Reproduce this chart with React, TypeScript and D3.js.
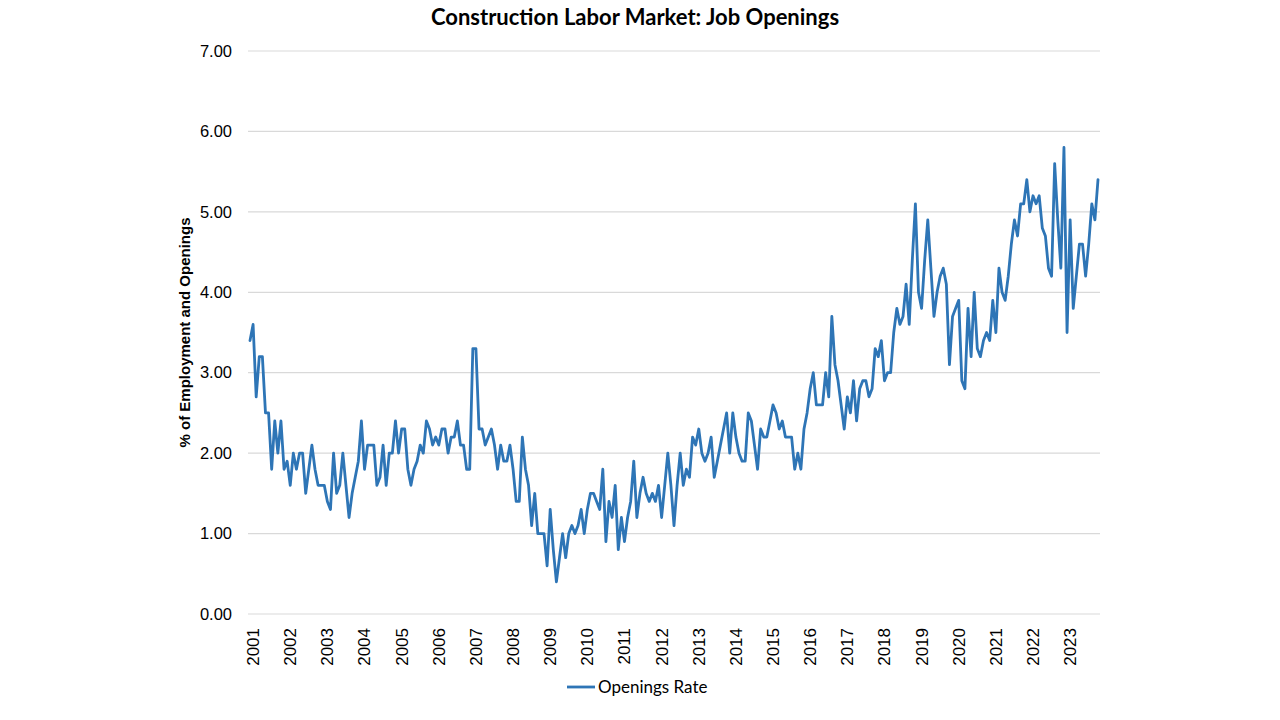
import React from "react";
import * as d3 from "d3";

// Monthly JOLTS construction job openings rate, Dec 2000 – Oct 2023
const startYear = 2000;
const startMonth = 11; // December (0-based)
const openingsRate: number[] = [
  3.4,
  // 2001
  3.6, 2.7, 3.2, 3.2, 2.5, 2.5, 1.8, 2.4, 2.0, 2.4, 1.8, 1.9,
  // 2002
  1.6, 2.0, 1.8, 2.0, 2.0, 1.5, 1.8, 2.1, 1.8, 1.6, 1.6, 1.6,
  // 2003
  1.4, 1.3, 2.0, 1.5, 1.6, 2.0, 1.6, 1.2, 1.5, 1.7, 1.9, 2.4,
  // 2004
  1.8, 2.1, 2.1, 2.1, 1.6, 1.7, 2.1, 1.6, 2.0, 2.0, 2.4, 2.0,
  // 2005
  2.3, 2.3, 1.8, 1.6, 1.8, 1.9, 2.1, 2.0, 2.4, 2.3, 2.1, 2.2,
  // 2006
  2.1, 2.3, 2.3, 2.0, 2.2, 2.2, 2.4, 2.1, 2.1, 1.8, 1.8, 3.3,
  // 2007
  3.3, 2.3, 2.3, 2.1, 2.2, 2.3, 2.1, 1.8, 2.1, 1.9, 1.9, 2.1,
  // 2008
  1.8, 1.4, 1.4, 2.2, 1.8, 1.6, 1.1, 1.5, 1.0, 1.0, 1.0, 0.6,
  // 2009
  1.3, 0.8, 0.4, 0.7, 1.0, 0.7, 1.0, 1.1, 1.0, 1.1, 1.3, 1.0,
  // 2010
  1.3, 1.5, 1.5, 1.4, 1.3, 1.8, 0.9, 1.4, 1.2, 1.6, 0.8, 1.2,
  // 2011
  0.9, 1.2, 1.4, 1.9, 1.2, 1.5, 1.7, 1.5, 1.4, 1.5, 1.4, 1.6,
  // 2012
  1.2, 1.6, 2.0, 1.6, 1.1, 1.6, 2.0, 1.6, 1.8, 1.7, 2.2, 2.1,
  // 2013
  2.3, 2.0, 1.9, 2.0, 2.2, 1.7, 1.9, 2.1, 2.3, 2.5, 2.0, 2.5,
  // 2014
  2.2, 2.0, 1.9, 1.9, 2.5, 2.4, 2.1, 1.8, 2.3, 2.2, 2.2, 2.4,
  // 2015
  2.6, 2.5, 2.3, 2.4, 2.2, 2.2, 2.2, 1.8, 2.0, 1.8, 2.3, 2.5,
  // 2016
  2.8, 3.0, 2.6, 2.6, 2.6, 3.0, 2.7, 3.7, 3.1, 2.9, 2.6, 2.3,
  // 2017
  2.7, 2.5, 2.9, 2.4, 2.8, 2.9, 2.9, 2.7, 2.8, 3.3, 3.2, 3.4,
  // 2018
  2.9, 3.0, 3.0, 3.5, 3.8, 3.6, 3.7, 4.1, 3.6, 4.4, 5.1, 4.0,
  // 2019
  3.8, 4.4, 4.9, 4.3, 3.7, 4.0, 4.2, 4.3, 4.1, 3.1, 3.7, 3.8,
  // 2020
  3.9, 2.9, 2.8, 3.8, 3.2, 4.0, 3.3, 3.2, 3.4, 3.5, 3.4, 3.9,
  // 2021
  3.5, 4.3, 4.0, 3.9, 4.2, 4.6, 4.9, 4.7, 5.1, 5.1, 5.4, 5.0,
  // 2022
  5.2, 5.1, 5.2, 4.8, 4.7, 4.3, 4.2, 5.6, 4.9, 4.3, 5.8, 3.5,
  // 2023
  4.9, 3.8, 4.2, 4.6, 4.6, 4.2, 4.6, 5.1, 4.9, 5.4,
];

const yearLabels: string[] = d3.range(2001, 2024).map(String);
const yTicks: number[] = [0, 1, 2, 3, 4, 5, 6, 7];

const title = "Construction Labor Market: Job Openings";
const yAxisTitle = "% of Employment and Openings";
const seriesName = "Openings Rate";

export default function App() {
  const W = 1280;
  const H = 720;
  const plotLeft = 248;
  const plotRight = 1100;
  const plotTop = 51;
  const plotBottom = 614;
  const lineColor = "#2e75b6";

  const n = openingsRate.length;
  const x = d3.scaleLinear().domain([0, n - 1]).range([250, 1098]);
  const y = d3.scaleLinear().domain([0, 7]).range([plotBottom, plotTop]);

  const monthIndex = (year: number) => (year - startYear) * 12 - startMonth;

  const line = d3
    .line<number>()
    .x((_, i) => x(i))
    .y((d) => y(d));

  const axisFont = "'Liberation Sans', Arial, sans-serif";

  return (
    <div style={{ position: "fixed", left: 0, top: 0, width: W, height: H, background: "#ffffff" }}>
      <svg width={W} height={H} viewBox={`0 0 ${W} ${H}`}>
        <rect x={0} y={0} width={W} height={H} fill="#ffffff" />
        <text
          x={635}
          y={25}
          textAnchor="middle"
          fontFamily="Lato, 'Open Sans', sans-serif"
          fontWeight="bold"
          fontSize={22}
          fill="#000"
        >
          {title}
        </text>

        {yTicks.map((t) => (
          <g key={t}>
            <line
              x1={plotLeft}
              x2={plotRight}
              y1={y(t)}
              y2={y(t)}
              stroke="#d9d9d9"
              strokeWidth={1.2}
            />
            <text
              x={232}
              y={y(t)}
              dy="0.35em"
              textAnchor="end"
              fontFamily={axisFont}
              fontSize={16.5}
              fill="#000"
            >
              {t.toFixed(2)}
            </text>
          </g>
        ))}

        {yearLabels.map((lab) => {
          const xi = x(monthIndex(+lab));
          return (
            <text
              key={lab}
              transform={`translate(${xi},628) rotate(-90)`}
              dy="0.35em"
              textAnchor="end"
              fontFamily={axisFont}
              fontSize={17}
              fill="#000"
            >
              {lab}
            </text>
          );
        })}

        <text
          transform={`translate(185,${(plotTop + plotBottom) / 2}) rotate(-90)`}
          textAnchor="middle"
          dy="0.35em"
          fontFamily={axisFont}
          fontWeight="bold"
          fontSize={15}
          fill="#000"
        >
          {yAxisTitle}
        </text>

        <path
          d={line(openingsRate) ?? ""}
          fill="none"
          stroke={lineColor}
          strokeWidth={2.8}
          strokeLinejoin="round"
          strokeLinecap="round"
        />

        <line x1={567} x2={595} y1={687} y2={687} stroke={lineColor} strokeWidth={2.8} />
        <text
          x={598}
          y={687}
          dy="0.35em"
          fontFamily="Lato, 'Open Sans', sans-serif"
          fontSize={17}
          fill="#000"
        >
          {seriesName}
        </text>
      </svg>
    </div>
  );
}
